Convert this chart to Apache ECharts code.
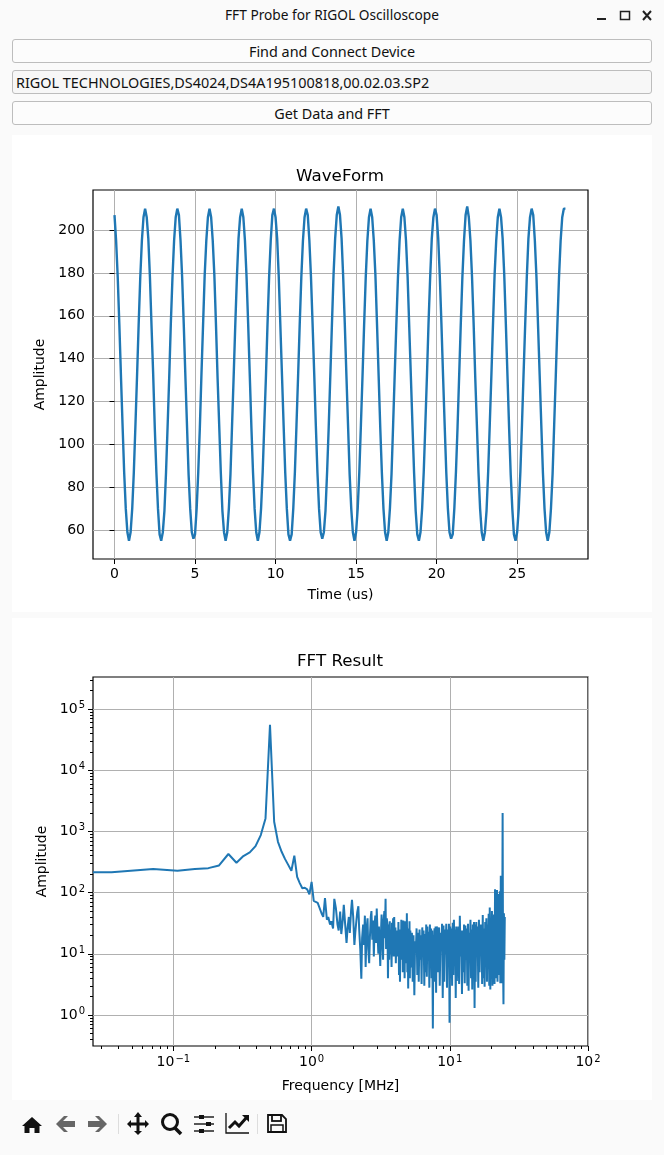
<!DOCTYPE html>
<html>
<head>
<meta charset="utf-8">
<title>FFT Probe for RIGOL Oscilloscope</title>
<script src="https://cdn.jsdelivr.net/npm/echarts@6/dist/echarts.min.js"></script>
<style>
  html, body { margin: 0; padding: 0; background: #fafafa; }
  body { width: 664px; height: 1155px; position: relative; overflow: hidden; font-family: "Noto Sans", sans-serif; color: #111; }
  .title { position: absolute; left: 0; top: 5px; width: 664px; text-align: center; font-size: 13.7px; line-height: 20px; }
  .btn { position: absolute; left: 12px; width: 638px; height: 21px; padding-top: 1px; line-height: 22px; border: 1px solid #bdbdbd; border-radius: 3px; background: #fcfcfc; text-align: center; font-size: 14.4px; }
  .edit { text-align: left; text-indent: 3px; background: #f7f7f7; }
  .panel { position: absolute; left: 12px; width: 640px; background: #fff; }
  #chart { position: absolute; left: 0; top: 0; width: 664px; height: 1155px; }
  svg { position: absolute; left: 0; top: 0; }
</style>
</head>
<body>
<div class="title">FFT Probe for RIGOL Oscilloscope</div>
<svg width="664" height="30">
  <rect x="597" y="18" width="9" height="2" fill="#222"/>
  <rect x="620.5" y="11.5" width="9" height="8" fill="none" stroke="#222" stroke-width="1.5"/>
  <path d="M643 11 L651 20 M651 11 L643 20" stroke="#222" stroke-width="2"/>
</svg>
<div class="btn" style="top:39px">Find and Connect Device</div>
<div class="btn edit" style="top:70px">RIGOL TECHNOLOGIES,DS4024,DS4A195100818,00.02.03.SP2</div>
<div class="btn" style="top:101px">Get Data and FFT</div>
<div class="panel" style="top:135px;height:477px"></div>
<div class="panel" style="top:618px;height:482px"></div>
<div id="chart"></div>
<svg width="664" height="1155" style="pointer-events:none">
  <!-- toolbar -->
  <path d="M32 1117 L42 1126 L39.5 1126 L39.5 1133 L34.5 1133 L34.5 1128 L29.5 1128 L29.5 1133 L24.5 1133 L24.5 1126 L22 1126 Z" fill="#111"/>
  <path d="M75 1121 L63 1121 L68 1116 L64 1116 L56 1124 L64 1132 L68 1132 L63 1127 L75 1127 Z" fill="#666"/>
  <path d="M88 1121 L100 1121 L95 1116 L99 1116 L107 1124 L99 1132 L95 1132 L100 1127 L88 1127 Z" fill="#666"/>
  <rect x="118" y="1114" width="1" height="20" fill="#ddd"/>
  <path d="M138 1112 L142 1117 L139.5 1117 L139.5 1122.5 L145 1122.5 L145 1120 L149 1124 L145 1128 L145 1125.5 L139.5 1125.5 L139.5 1131 L142 1131 L138 1135 L134 1131 L136.5 1131 L136.5 1125.5 L131 1125.5 L131 1128 L127 1124 L131 1120 L131 1122.5 L136.5 1122.5 L136.5 1117 L134 1117 Z" fill="#111"/>
  <circle cx="170" cy="1122" r="7.5" fill="none" stroke="#111" stroke-width="3"/>
  <path d="M175 1128 L181 1134" stroke="#111" stroke-width="3.5"/>
  <path d="M194 1117 H214 M194 1124 H214 M194 1131 H214" stroke="#222" stroke-width="1.5"/>
  <rect x="199" y="1115" width="5" height="4" fill="#111"/><rect x="206" y="1122" width="5" height="4" fill="#111"/><rect x="199" y="1129" width="5" height="4" fill="#111"/>
  <path d="M226 1113 V1133 H249" fill="none" stroke="#111" stroke-width="1.3"/>
  <path d="M229 1128 L235 1122 L239 1126 L247 1117" fill="none" stroke="#111" stroke-width="3"/>
  <path d="M242 1115 L249 1115 L249 1122 Z" fill="#111"/>
  <rect x="257" y="1114" width="1" height="20" fill="#ddd"/>
  <path d="M268 1115 H282 L286 1119 V1132 H268 Z" fill="none" stroke="#111" stroke-width="1.8"/>
  <rect x="272" y="1115" width="9" height="6" fill="none" stroke="#111" stroke-width="1.8"/>
  <rect x="271" y="1125" width="12" height="7" fill="none" stroke="#111" stroke-width="1.5"/>
</svg>
<script>
// waveform, one row per period (us)
var waveTime = [
  0,0.1,0.2,0.3,0.4,0.5,0.6,0.7,0.8,0.9,1,1.1,1.2,1.3,1.4,1.5,1.6,1.7,1.8,1.9,
  2,2.1,2.2,2.3,2.4,2.5,2.6,2.7,2.8,2.9,3,3.1,3.2,3.3,3.4,3.5,3.6,3.7,3.8,3.9,
  4,4.1,4.2,4.3,4.4,4.5,4.6,4.7,4.8,4.9,5,5.1,5.2,5.3,5.4,5.5,5.6,5.7,5.8,5.9,
  6,6.1,6.2,6.3,6.4,6.5,6.6,6.7,6.8,6.9,7,7.1,7.2,7.3,7.4,7.5,7.6,7.7,7.8,7.9,
  8,8.1,8.2,8.3,8.4,8.5,8.6,8.7,8.8,8.9,9,9.1,9.2,9.3,9.4,9.5,9.6,9.7,9.8,9.9,
  10,10.1,10.2,10.3,10.4,10.5,10.6,10.7,10.8,10.9,11,11.1,11.2,11.3,11.4,11.5,11.6,11.7,11.8,11.9,
  12,12.1,12.2,12.3,12.4,12.5,12.6,12.7,12.8,12.9,13,13.1,13.2,13.3,13.4,13.5,13.6,13.7,13.8,13.9,
  14,14.1,14.2,14.3,14.4,14.5,14.6,14.7,14.8,14.9,15,15.1,15.2,15.3,15.4,15.5,15.6,15.7,15.8,15.9,
  16,16.1,16.2,16.3,16.4,16.5,16.6,16.7,16.8,16.9,17,17.1,17.2,17.3,17.4,17.5,17.6,17.7,17.8,17.9,
  18,18.1,18.2,18.3,18.4,18.5,18.6,18.7,18.8,18.9,19,19.1,19.2,19.3,19.4,19.5,19.6,19.7,19.8,19.9,
  20,20.1,20.2,20.3,20.4,20.5,20.6,20.7,20.8,20.9,21,21.1,21.2,21.3,21.4,21.5,21.6,21.7,21.8,21.9,
  22,22.1,22.2,22.3,22.4,22.5,22.6,22.7,22.8,22.9,23,23.1,23.2,23.3,23.4,23.5,23.6,23.7,23.8,23.9,
  24,24.1,24.2,24.3,24.4,24.5,24.6,24.7,24.8,24.9,25,25.1,25.2,25.3,25.4,25.5,25.6,25.7,25.8,25.9,
  26,26.1,26.2,26.3,26.4,26.5,26.6,26.7,26.8,26.9,27,27.1,27.2,27.3,27.4,27.5,27.6,27.7,27.8,27.9,
  28
];
var waveAmp = [
  207,195,178,156,132,109,87,70,59,55,59,70,87,109,132,156,178,195,206,210,
  206,196,178,155,133,108,87,70,58,55,59,69,87,109,132,157,178,195,206,210,
  207,195,178,156,132,109,86,70,59,56,58,70,87,108,133,156,179,195,206,210,
  206,195,179,156,131,109,87,69,59,55,59,70,86,109,132,156,178,196,206,210,
  206,195,178,156,132,108,87,70,59,55,59,70,87,109,131,156,178,195,207,210,
  206,196,178,155,132,109,87,70,58,55,58,70,87,109,132,156,178,195,206,210,
  207,195,178,156,133,109,87,70,59,56,59,69,87,108,132,156,179,196,207,211,
  207,196,178,156,132,109,86,70,59,55,59,70,87,109,132,156,178,195,206,210,
  206,195,179,156,132,108,87,70,59,55,59,70,86,109,133,156,178,195,206,210,
  206,195,178,155,132,109,87,69,58,55,59,70,87,109,132,157,178,196,206,210,
  207,196,178,156,132,109,87,70,59,56,58,70,87,108,132,156,178,195,207,211,
  206,195,178,156,131,109,87,70,59,55,59,69,87,109,132,156,179,195,206,210,
  206,196,179,156,132,108,86,70,58,55,59,70,87,109,133,156,178,196,206,210,
  207,195,178,155,132,109,87,70,59,55,59,70,86,109,132,156,178,195,206,210,
  210
];
var waveXTicks = [0, 5, 10, 15, 20, 25];
var waveYTicks = [60, 80, 100, 120, 140, 160, 180, 200];

// spectrum
var fftFreq = [
  0.0262,0.0357,0.0714,0.107,0.143,0.179,0.214,0.25,0.286,0.321,
  0.357,0.393,0.429,0.464,0.5,0.536,0.571,0.607,0.643,0.679,
  0.714,0.75,0.786,0.821,0.857,0.893,0.929,0.964,1,1.036,
  1.07,1.107,1.143,1.18,1.214,1.25,
  1.29,1.32,1.36,1.39,1.43,1.46,1.5,1.54,1.57,1.61,
  1.64,1.68,1.71,1.75,1.79,1.82,1.86,1.89,1.93,1.96,
  2,2.04,2.07,2.11,2.14,2.18,2.21,2.25,2.29,2.32,
  2.36,2.39,2.43,2.46,2.5,2.54,2.57,2.61,2.64,2.68,
  2.71,2.75,2.79,2.82,2.86,2.89,2.93,2.96,3,3.04,
  3.07,3.11,3.14,3.18,3.21,3.25,3.29,3.32,3.36,3.39,
  3.43,3.46,3.5,3.54,3.57,3.61,3.64,3.68,3.71,3.75,
  3.79,3.82,3.86,3.89,3.93,3.96,4,4.04,4.07,4.11,
  4.14,4.18,4.21,4.25,4.29,4.32,4.36,4.39,4.43,4.46,
  4.5,4.54,4.57,4.61,4.64,4.68,4.71,4.75,4.79,4.82,
  4.86,4.89,4.93,4.96,5,5.04,5.07,5.11,5.14,5.18,
  5.25,5.32,5.39,5.46,5.54,5.61,5.68,5.75,5.82,5.89,
  5.96,6.04,6.11,6.18,6.25,6.32,6.39,6.46,6.54,6.61,
  6.68,6.75,6.82,6.89,6.96,7.04,7.11,7.18,7.25,7.32,
  7.39,7.46,7.54,7.61,7.68,7.75,7.82,7.89,7.96,8.04,
  8.14,8.25,8.36,8.46,8.57,8.68,8.79,8.89,9,9.11,
  9.21,9.32,9.43,9.54,9.64,9.75,9.86,9.96,10.07,10.18,
  10.29,10.39,10.5,10.61,10.71,10.82,10.93,11.04,11.14,11.25,
  11.39,11.54,11.68,11.82,11.96,12.11,12.25,12.39,12.54,12.68,
  12.82,12.96,13.11,13.25,13.39,13.54,13.68,13.82,13.96,14.11,
  14.25,14.39,14.54,14.68,14.82,14.96,15.11,15.25,15.39,15.54,
  15.71,15.89,16.07,16.25,16.43,16.61,16.79,16.96,17.14,17.32,
  17.5,17.68,17.86,18.04,18.21,18.39,18.57,18.75,18.93,19.11,
  19.29,19.46,19.64,19.82,20,20.18,20.36,20.54,20.71,20.89,
  21.07,21.25,21.43,21.61,21.79,21.96,22.14,22.32,22.5,22.68,
  22.86,23.04,23.21,23.39,23.57,23.75,23.93,24.11,24.29,24.46,
  24.64,24.82,25
];
var fftAmp = [
  214,215,242,228,243,251,278,427,307,395,
  453,575,870,1630,55000,1435,676,464,352,281,
  227,400,181,143,118,120,113,94,150,73,
  76,68,70,46,40,81,
  36,40,30,34,26,79,55,30,24,49,
  21,35,63,30,15,26,40,22,50,76,
  40,14,22,35,48,60,25,12,3.9,18,
  30,14,42,6.1,25,38,12,7,18,40,
  50,17,35,9,30,42,15,55,22,10,
  28,12,6.3,24,44,16,8,34,50,18,
  79,12,38,30,4,30,8,34,10,24,
  6.1,32,12,38,9,40,10,27,7,22,
  9,24,9,33,4.5,24,3.5,25,8,36,
  12,28,5,35,10,26,4,34,7,24,
  9,46,5,26,2.7,24,11,34,4,24,
  6,22,3.5,20,2.1,16,11,26,4.5,22,
  3.5,25,8,20,3.2,27,12,24,3,21,
  5,30,4.2,28,11,23,2.8,30,7,26,
  4,24,0.6,20,13,26,3.5,28,2.3,28,
  24,5,27,3,22,11,31,1.9,29,3.5,
  25,10,31,2.8,25,12,31,0.75,28,4,
  26,3,32,4.5,36,11,25,1.9,28,3.6,
  12,28,3.2,42,9,24,2.2,24,5,30,
  3.3,29,11,26,3,31,2.5,22,9,36,
  4,25,2.6,30,12,33,1.3,30,3.5,33,
  11,28,2.8,36,5,30,13,30,3.2,43,
  4,26,2.9,33,12,38,3.5,30,9,45,
  3,57,2.6,34,11,50,3,34,13,44,
  3.2,113,12,60,4,110,3.5,70,11,95,
  4.5,105,3.3,188,3.3,150,11,2000,6,1.5,
  46,8,40
];
var fftXTicks = [0.1, 1, 10, 100];
var fftYTicks = [1, 10, 100, 1000, 10000, 100000];
var fftXMinor = [0.03,0.04,0.05,0.06,0.07,0.08,0.09,0.2,0.3,0.4,0.5,0.6,0.7,0.8,0.9,2,3,4,5,6,7,8,9,20,30,40,50,60,70,80,90];
var fftYMinor = [0.4,0.5,0.6,0.7,0.8,0.9,2,3,4,5,6,7,8,9,20,30,40,50,60,70,80,90,200,300,400,500,600,700,800,900,2000,3000,4000,5000,6000,7000,8000,9000,20000,30000,40000,50000,60000,70000,80000,90000,200000,300000];

var myChart = echarts.init(document.getElementById('chart'), null, { renderer: 'canvas' });
var fontName = 'DejaVu Sans';
var lineColor = '#1f77b4';

function pow10Label(val) {
  var exp = Math.round(Math.log(val) / Math.LN10);
  return '{b|10}{s|' + (exp < 0 ? '\u2212' + (-exp) : exp) + '}';
}
var powRich = {
  b: { fontFamily: fontName, fontSize: 14, color: '#000' },
  s: { fontFamily: fontName, fontSize: 10, color: '#000', padding: [0, 0, 7, 1] }
};
var tickStyle = { length: 5, lineStyle: { color: '#000', width: 1 } };
var gridLine = { show: true, lineStyle: { color: '#b0b0b0', width: 1 } };
var nameFont = { fontFamily: fontName, fontSize: 14, color: '#000' };
var labelFont = { fontFamily: fontName, fontSize: 14, color: '#000', margin: 8 };

var option = {
  animation: false,
  title: [
    { text: 'WaveForm', left: 335, top: 163, textAlign: 'center', textStyle: { fontFamily: fontName, fontSize: 16.7, fontWeight: 'normal', color: '#000' } },
    { text: 'FFT Result', left: 335, top: 648, textAlign: 'center', textStyle: { fontFamily: fontName, fontSize: 16.7, fontWeight: 'normal', color: '#000' } }
  ],
  grid: [
    { left: 93, top: 190, width: 495, height: 369, show: true, borderColor: '#000', borderWidth: 1.2, backgroundColor: '#fff' },
    { left: 93, top: 677, width: 495, height: 369, show: true, borderColor: '#000', borderWidth: 1.2, backgroundColor: '#fff' }
  ],
  xAxis: [
    {
      type: 'value', gridIndex: 0, min: -1.335, max: 29.4,
      name: 'Time (us)', nameLocation: 'middle', nameGap: 29, nameTextStyle: nameFont,
      axisLine: { show: false },
      axisTick: Object.assign({ customValues: waveXTicks }, tickStyle),
      axisLabel: Object.assign({ customValues: waveXTicks, showMinLabel: true, showMaxLabel: true }, labelFont),
      splitLine: gridLine
    },
    {
      type: 'log', gridIndex: 1, position: 'bottom', min: 0.0262, max: 100,
      name: 'Frequency [MHz]', nameLocation: 'middle', nameGap: 33, nameTextStyle: nameFont,
      axisLine: { show: false },
      axisTick: Object.assign({ customValues: fftXTicks }, tickStyle),
      axisLabel: Object.assign({ customValues: fftXTicks, formatter: pow10Label, rich: powRich }, labelFont),
      splitLine: gridLine
    },
    {
      type: 'log', gridIndex: 1, position: 'bottom', min: 0.0262, max: 100,
      axisLine: { show: false },
      axisTick: { customValues: fftXMinor, length: 3, lineStyle: { color: '#000', width: 1 } },
      axisLabel: { show: false },
      splitLine: { show: false }
    }
  ],
  yAxis: [
    {
      type: 'value', gridIndex: 0, min: 46.5, max: 218.7,
      name: 'Amplitude', nameLocation: 'middle', nameGap: 42, nameTextStyle: nameFont,
      axisLine: { show: false },
      axisTick: Object.assign({ customValues: waveYTicks }, tickStyle),
      axisLabel: Object.assign({ customValues: waveYTicks }, labelFont),
      splitLine: gridLine
    },
    {
      type: 'log', gridIndex: 1, position: 'left', min: 0.3115, max: 333000,
      name: 'Amplitude', nameLocation: 'middle', nameGap: 42, nameTextStyle: nameFont,
      axisLine: { show: false },
      axisTick: Object.assign({ customValues: fftYTicks }, tickStyle),
      axisLabel: Object.assign({ customValues: fftYTicks, formatter: pow10Label, rich: powRich }, labelFont),
      splitLine: gridLine
    },
    {
      type: 'log', gridIndex: 1, position: 'left', min: 0.3115, max: 333000,
      axisLine: { show: false },
      axisTick: { customValues: fftYMinor, length: 3, lineStyle: { color: '#000', width: 1 } },
      axisLabel: { show: false },
      splitLine: { show: false }
    }
  ],
  series: [
    {
      type: 'line', xAxisIndex: 0, yAxisIndex: 0, showSymbol: false, clip: true, sampling: 'none',
      lineStyle: { color: lineColor, width: 2.4 },
      data: waveTime.map(function (t, i) { return [t, waveAmp[i]]; })
    },
    {
      type: 'line', xAxisIndex: 1, yAxisIndex: 1, showSymbol: false, clip: true,
      lineStyle: { color: lineColor, width: 2 },
      data: fftFreq.map(function (f, i) { return [f, fftAmp[i]]; })
    }
  ]
};
myChart.setOption(option);
window.onresize = function () { myChart.resize(); };
</script>
</body>
</html>
